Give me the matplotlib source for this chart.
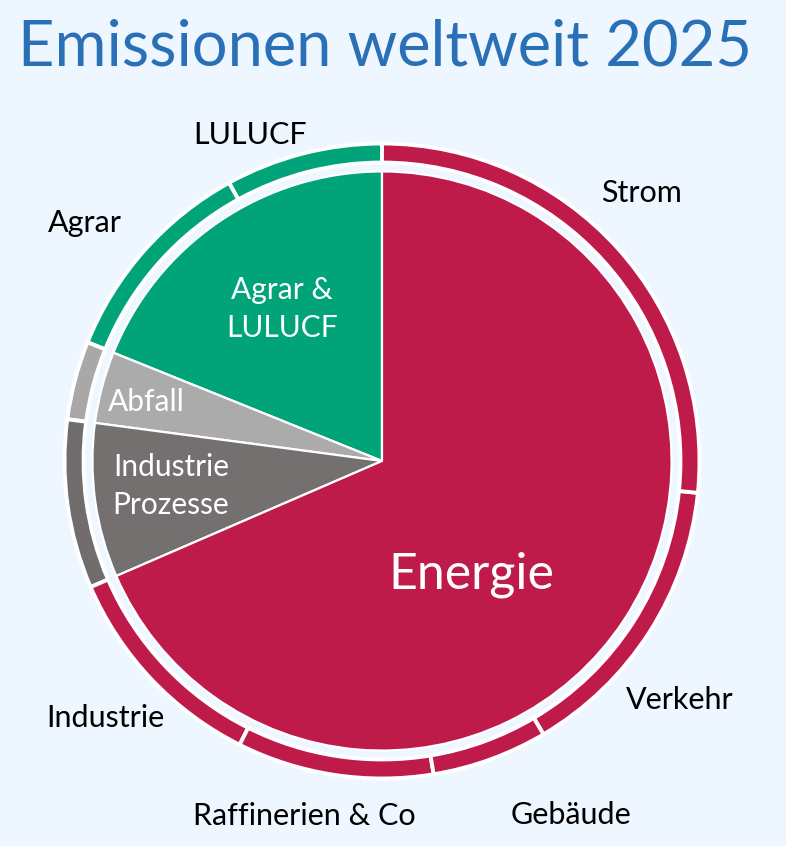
import matplotlib
matplotlib.use('Agg')
import matplotlib.pyplot as plt

# shares in percent (counter-clockwise from 12 o'clock)
inner_labels = ['Agrar &\nLULUCF', 'Abfall', 'Industrie\nProzesse', 'Energie']
inner_values = [18.9, 4.0, 8.6, 68.5]

outer_labels = ['LULUCF', 'Agrar', '', '', 'Industrie', 'Raffinerien & Co',
                'Gebäude', 'Verkehr', 'Strom']
outer_values = [8.0, 10.9, 4.0, 8.6, 11.1, 10.0, 5.9, 14.9, 26.6]

red = '#BE1A4A'
green = '#00A478'
light_grey = '#ABABAB'
dark_grey = '#74706F'
bg = '#EEF6FF'

inner_colors = [green, light_grey, dark_grey, red]
outer_colors = [green, green, '#A9A7A7', '#716D6C', red, red, red, red, red]

W, H = 786, 846
cx, cy, R = 382, 461, 317.5

fig = plt.figure(figsize=(W / 100, H / 100), dpi=100)
fig.patch.set_facecolor(bg)

ax = fig.add_axes([(cx - R) / W, (H - cy - R) / H, 2 * R / W, 2 * R / H])
ax.axis('off')

ax.pie(outer_values, radius=1.0, colors=outer_colors, startangle=90,
       counterclock=True,
       wedgeprops=dict(width=0.06, edgecolor='white', linewidth=2.8))
ax.pie(inner_values, radius=0.912, colors=inner_colors, startangle=90,
       counterclock=True,
       wedgeprops=dict(edgecolor='white', linewidth=1.6))

ax.set_xlim(-1, 1)
ax.set_ylim(-1, 1)


def px(x, y):
    return (x - cx) / R, (cy - y) / R


# text positions in picture pixels
inner_pos = [(282, 309), (146, 402), (171, 486), (471, 575)]
inner_sizes = [21.5, 21.5, 21.5, 36]
for lab, pos, fs in zip(inner_labels, inner_pos, inner_sizes):
    ax.text(*px(*pos), lab, color='white', fontsize=fs, family='Lato',
            ha='center', va='center', linespacing=1.4)

outer_pos = [(250, 135), (85, 223), None, None, (105, 718), (304, 816),
             (571, 815), (680, 700), (642, 193)]
for lab, pos in zip(outer_labels, outer_pos):
    if pos is None:
        continue
    ax.text(*px(*pos), lab, color='black', fontsize=22, family='Lato',
            ha='center', va='center', clip_on=False)

fig.text(385 / W, 1 - 48 / H, 'Emissionen weltweit 2025', color='#2A70B6',
         fontsize=45.5, family='Lato', ha='center', va='center')

fig.savefig('out.png', dpi=100, facecolor=bg)
